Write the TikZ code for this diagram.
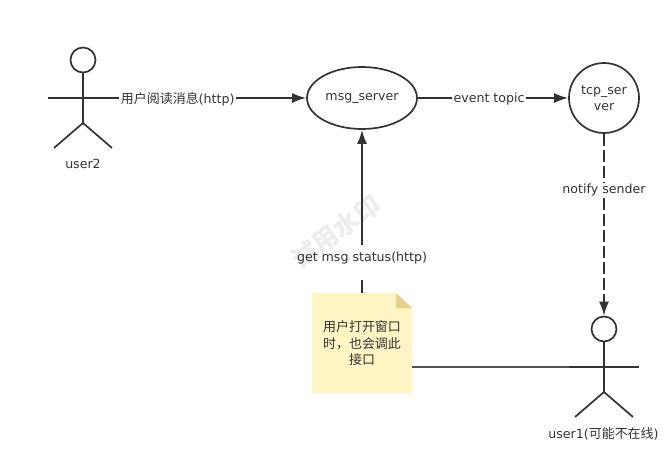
\documentclass[tikz,border=0pt]{standalone}
\usepackage{fontspec}
\setmainfont{DejaVu Sans}
\newfontfamily\cjk[Scale=1.03]{Noto Sans CJK SC}
\usetikzlibrary{arrows.meta,shapes.geometric}
\definecolor{inkgrey}{HTML}{333333}
\definecolor{notefill}{HTML}{FFF4C3}
\definecolor{notefold}{HTML}{E6D08C}
\tikzset{
	inkline/.style={draw=inkgrey,line width=1.7pt},
	flowline/.style={inkline,-{Latex[length=14pt,width=10pt]}},
	edgetag/.style={fill=white,text=inkgrey,font=\fontsize{12.6}{15}\selectfont,inner sep=1.5pt},
	actorhead/.style={circle,draw=inkgrey,line width=1.7pt,minimum size=25pt,inner sep=0pt},
	plainlabel/.style={text=inkgrey,font=\fontsize{12.6}{16}\selectfont,inner sep=0pt},
}
\begin{document}
\begin{tikzpicture}[x=1pt,y=-1pt]
	\useasboundingbox (0,0) rectangle (671,463);

	% Servers
	\node[ellipse,inkline,minimum width=110pt,minimum height=62pt,inner sep=0pt,plainlabel] (msg) at (362,98) {\raisebox{-1.5pt}{msg\_server}};
	\node[circle,inkline,minimum size=70pt,inner sep=0pt,plainlabel,align=center] (tcp) at (604,98) {\raisebox{-1.5pt}{tcp\_ser}\\\raisebox{-1.5pt}{ver}};

	% Note
	\fill[notefill] (312,293) -- (396,293) -- (412,308) -- (412,393) -- (312,393) -- cycle;
	\fill[notefold] (396,293) -- (412,308) -- (396,308) -- cycle;
	\node[minimum size=100pt,inner sep=0pt,align=center,plainlabel,font=\cjk\fontsize{12.6}{16.5}\selectfont] (note) at (362,343.5) {用户打开窗口\\时，也会调此\\接口};

	% Actor user2
	\node[actorhead] (head2) at (83,60) {};
	\coordinate (body2) at (83,123);
	\coordinate (armA2) at (48,98);
	\coordinate (armB2) at (118,98);
	\coordinate (legA2) at (54,148);
	\coordinate (legB2) at (112,148);
	\draw[inkline] (head2) -- (body2);
	\draw[inkline] (armA2) -- (armB2);
	\draw[inkline] (legA2) -- (body2) -- (legB2);
	\node[plainlabel] (user2) at (83,164) {user2};

	% Actor user1
	\node[actorhead] (head1) at (604,329) {};
	\coordinate (body1) at (604,392);
	\coordinate (armA1) at (569,367);
	\coordinate (armB1) at (639,367);
	\coordinate (legA1) at (575,417);
	\coordinate (legB1) at (633,417);
	\draw[inkline] (head1) -- (body1);
	\draw[inkline] (armA1) -- (armB1);
	\draw[inkline] (legA1) -- (body1) -- (legB1);
	\node[plainlabel] (user1) at (603.5,433.5) {user1({\cjk 可能不在线})};

	% Connectors
	\draw[flowline] (armB2) -- (msg.west) node[edgetag,pos=0.317,yshift=-1.5pt] (read) {{\cjk 用户阅读消息}(http)};
	\draw[flowline] (msg.east) -- (tcp.west) node[edgetag,pos=0.474,yshift=-1.5pt] (topic) {event topic};
	\draw[flowline,dash pattern=on 12pt off 4pt] (tcp.south) -- (head1.north) node[edgetag,pos=0.31] (notify) {notify sender};
	\draw[flowline] (note.north) -- (msg.south) node[edgetag,pos=0.186,text height=16pt,text depth=19pt,inner ysep=0pt] (status) {get msg status(http)};
	\coordinate (noteport) at (412,367);
	\draw[inkline,draw=inkgrey!85] (noteport) -- (armA1);

	% Watermark
	\node[rotate=36,text=black,text opacity=0.07,font=\cjk\bfseries\fontsize{25}{28}\selectfont] (mark) at (336,232) {试用水印};
\end{tikzpicture}
\end{document}
